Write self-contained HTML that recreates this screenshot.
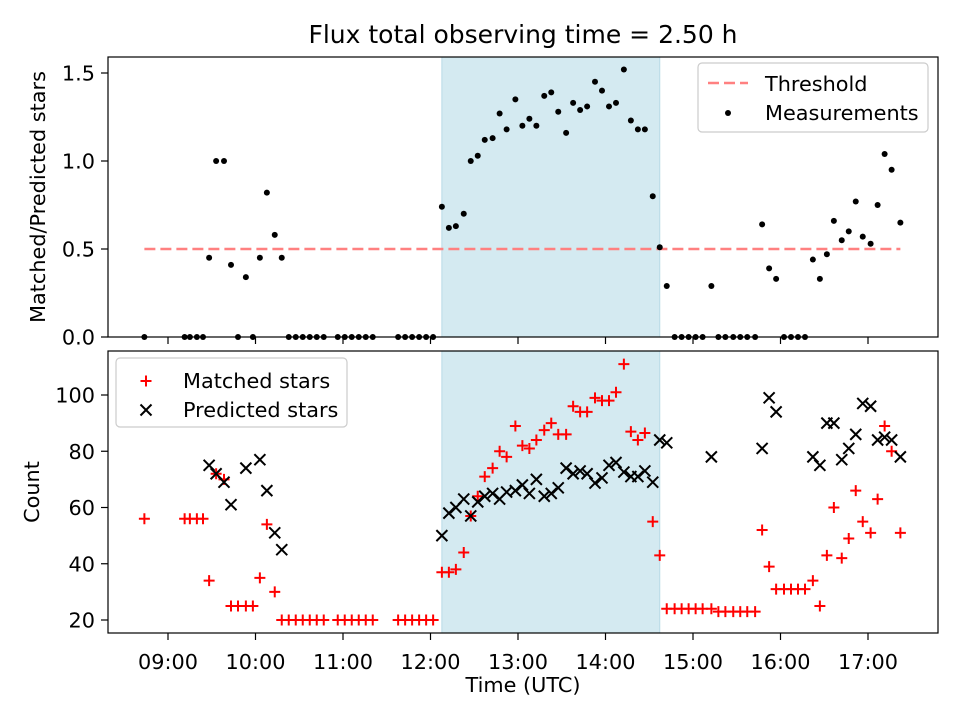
<!DOCTYPE html>
<html><head><meta charset="utf-8"><style>
body{margin:0;background:#fff}
svg{display:block;font-family:"DejaVu Sans","Liberation Sans",sans-serif}
</style></head><body>
<svg id="c" width="960" height="720" viewBox="0 0 960 720"></svg>
<script>
const times=[8.73,9.19,9.25,9.33,9.40,9.47,9.55,9.64,9.72,9.80,9.89,9.97,10.05,10.13,10.22,10.30,10.38,10.46,10.54,10.62,10.70,10.78,10.94,11.02,11.10,11.18,11.26,11.34,11.63,11.71,11.79,11.87,11.95,12.03,12.13,12.21,12.29,12.38,12.46,12.54,12.62,12.71,12.79,12.87,12.97,13.05,13.13,13.21,13.30,13.38,13.46,13.55,13.63,13.71,13.79,13.88,13.96,14.04,14.12,14.21,14.29,14.37,14.45,14.54,14.62,14.70,14.79,14.87,14.95,15.03,15.11,15.21,15.29,15.37,15.46,15.54,15.62,15.71,15.79,15.87,15.95,16.04,16.12,16.20,16.28,16.37,16.45,16.53,16.61,16.70,16.78,16.86,16.94,17.03,17.11,17.19,17.27,17.37];
const ratio=[0,0,0,0,0,0.45,1.0,1.0,0.41,0,0.34,0,0.45,0.82,0.58,0.45,0,0,0,0,0,0,0,0,0,0,0,0,0,0,0,0,0,0,0.74,0.62,0.63,0.70,1.0,1.03,1.12,1.13,1.27,1.18,1.35,1.20,1.24,1.20,1.37,1.39,1.28,1.16,1.33,1.29,1.31,1.45,1.40,1.31,1.33,1.52,1.23,1.18,1.18,0.80,0.51,0.29,0,0,0,0,0,0.29,0,0,0,0,0,0,0.64,0.39,0.33,0,0,0,0,0.44,0.33,0.47,0.66,0.55,0.60,0.77,0.57,0.53,0.75,1.04,0.95,0.65];
const matched=[56,56,56,56,56,34,72,70,25,25,25,25,35,54,30,20,20,20,20,20,20,20,20,20,20,20,20,20,20,20,20,20,20,20,37,37,38,44,57,64,71,74,80,78,89,82,81,84,87.5,90,86,86,96,94,94,99,98,98,101,111,87,84,86.5,55,43,24,24,24,24,24,24,24,23,23,23,23,23,23,52,39,31,31,31,31,31,34,25,43,60,42,49,66,55,51,63,89,80,51];
const predicted=[null,null,null,null,null,75,72,69,61,null,74,null,77,66,51,45,null,null,null,null,null,null,null,null,null,null,null,null,null,null,null,null,null,null,50,58,60,63,57,62,64,65,63,65.5,66,68,65,70,64,65,67,74,72,73,72,68.7,70.5,75,76,72.6,71,71,73,69,84,83,null,null,null,null,null,78,null,null,null,null,null,null,81,99,94,null,null,null,null,78,75,90,90,77,81,86,97,96,84,85,84,78];
const threshold=0.5, thrStart=8.73, thrEnd=17.37;
const shadeStart=12.13, shadeEnd=14.62;
const xTicks=[9,10,11,12,13,14,15,16,17];
const xTickLabels=["09:00","10:00","11:00","12:00","13:00","14:00","15:00","16:00","17:00"];
const topTicks=[0,0.5,1.0,1.5];
const topTickLabels=["0.0","0.5","1.0","1.5"];
const botTicks=[20,40,60,80,100];

const NS="http://www.w3.org/2000/svg";
const svg=document.getElementById('c');
function mk(tag,attrs,parent){const e=document.createElementNS(NS,tag);for(const k in attrs)e.setAttribute(k,attrs[k]);(parent||svg).appendChild(e);return e;}
const L=108,R=938,T1=57,B1=337,T2=351,B2=633;
const FS='20.8';
const X=t=>168+(t-9)*87.5;
const Y1=v=>337-v*176;
const Y2=v=>620-(v-20)*2.8125;

let t=mk('text',{x:523,y:43,'text-anchor':'middle','font-size':'25'});t.textContent="Flux total observing time = 2.50 h";


[[T1,B1],[T2,B2]].forEach((p,i)=>{
 const r=mk('rect',{x:X(shadeStart),y:p[0],width:X(shadeEnd)-X(shadeStart),height:p[1]-p[0],fill:'#d4eaf1',stroke:'#b8dbe6','stroke-width':1});
 
 
});

let th=mk('line',{x1:X(thrStart),x2:X(thrEnd),y1:Y1(threshold),y2:Y1(threshold),stroke:'#ff8080','stroke-width':2.5,'stroke-dasharray':'11,5'});


const gm=mk('g',{});
times.forEach((tt,i)=>{const c=mk('circle',{cx:X(tt),cy:Y1(ratio[i]),r:3,fill:'#000'},gm);
 });

const gr=mk('g',{});
times.forEach((tt,i)=>{const x=X(tt),y=Y2(matched[i]);
 const p=mk('path',{d:`M${x-5.5},${y}H${x+5.5}M${x},${y-5.5}V${y+5.5}`,stroke:'#f00','stroke-width':2,fill:'none'},gr);
 });
const gp=mk('g',{});
times.forEach((tt,i)=>{if(predicted[i]==null)return;const x=X(tt),y=Y2(predicted[i]);
 const p=mk('path',{d:`M${x-5.5},${y-5.5}L${x+5.5},${y+5.5}M${x-5.5},${y+5.5}L${x+5.5},${y-5.5}`,stroke:'#000','stroke-width':2,fill:'none'},gp);
 });

[[T1,B1,'top-axes'],[T2,B2,'bottom-axes']].forEach(p=>{
 const r=mk('rect',{x:L,y:p[0],width:R-L,height:p[1]-p[0],fill:'none',stroke:'#000','stroke-width':1.2});
 
});
xTicks.forEach((v,i)=>{const x=X(v);
 mk('line',{x1:x,x2:x,y1:B1,y2:B1+7,stroke:'#000','stroke-width':1.2});
 mk('line',{x1:x,x2:x,y1:B2,y2:B2+7,stroke:'#000','stroke-width':1.2});
 const tx=mk('text',{x:x,y:B2+36,'text-anchor':'middle','font-size':FS});tx.textContent=xTickLabels[i];
 
});
topTicks.forEach((v,i)=>{const y=Y1(v);
 mk('line',{x1:L-7,x2:L,y1:y,y2:y,stroke:'#000','stroke-width':1.2});
 const tx=mk('text',{x:L-13,y:y+7.5,'text-anchor':'end','font-size':FS});tx.textContent=topTickLabels[i];
 
});
botTicks.forEach(v=>{const y=Y2(v);
 mk('line',{x1:L-7,x2:L,y1:y,y2:y,stroke:'#000','stroke-width':1.2});
 const tx=mk('text',{x:L-13,y:y+7.5,'text-anchor':'end','font-size':FS});tx.textContent=v;
 
});
let a=mk('text',{x:523,y:692,'text-anchor':'middle','font-size':FS});a.textContent="Time (UTC)";

a=mk('text',{x:0,y:0,'text-anchor':'middle','font-size':FS,transform:'translate(45,197) rotate(-90)'});a.textContent="Matched/Predicted stars";

a=mk('text',{x:0,y:0,'text-anchor':'middle','font-size':FS,transform:'translate(39,492) rotate(-90)'});a.textContent="Count";


const lg1=mk('g',{});
mk('rect',{x:698,y:63,width:230,height:69,rx:4,fill:'#fff','fill-opacity':0.8,stroke:'#ccc','stroke-width':1.2},lg1);
mk('line',{x1:708,x2:748,y1:83,y2:83,stroke:'#ff8080','stroke-width':2.5,'stroke-dasharray':'11,5'},lg1);
let e=mk('text',{x:765,y:91,'font-size':FS},lg1);e.textContent="Threshold";

mk('circle',{cx:728,cy:113,r:3,fill:'#000'},lg1);
e=mk('text',{x:765,y:120,'font-size':FS},lg1);e.textContent="Measurements";


const lg2=mk('g',{});
mk('rect',{x:116,y:358,width:231,height:69,rx:4,fill:'#fff','fill-opacity':0.8,stroke:'#ccc','stroke-width':1.2},lg2);
mk('path',{d:'M140.5,381H151.5M146,375.5V386.5',stroke:'#f00','stroke-width':2},lg2);
e=mk('text',{x:183,y:388,'font-size':FS},lg2);e.textContent="Matched stars";

mk('path',{d:'M140.5,404.5L151.5,415.5M140.5,415.5L151.5,404.5',stroke:'#000','stroke-width':2},lg2);
e=mk('text',{x:183,y:417,'font-size':FS},lg2);e.textContent="Predicted stars";

</script>
</body></html>
